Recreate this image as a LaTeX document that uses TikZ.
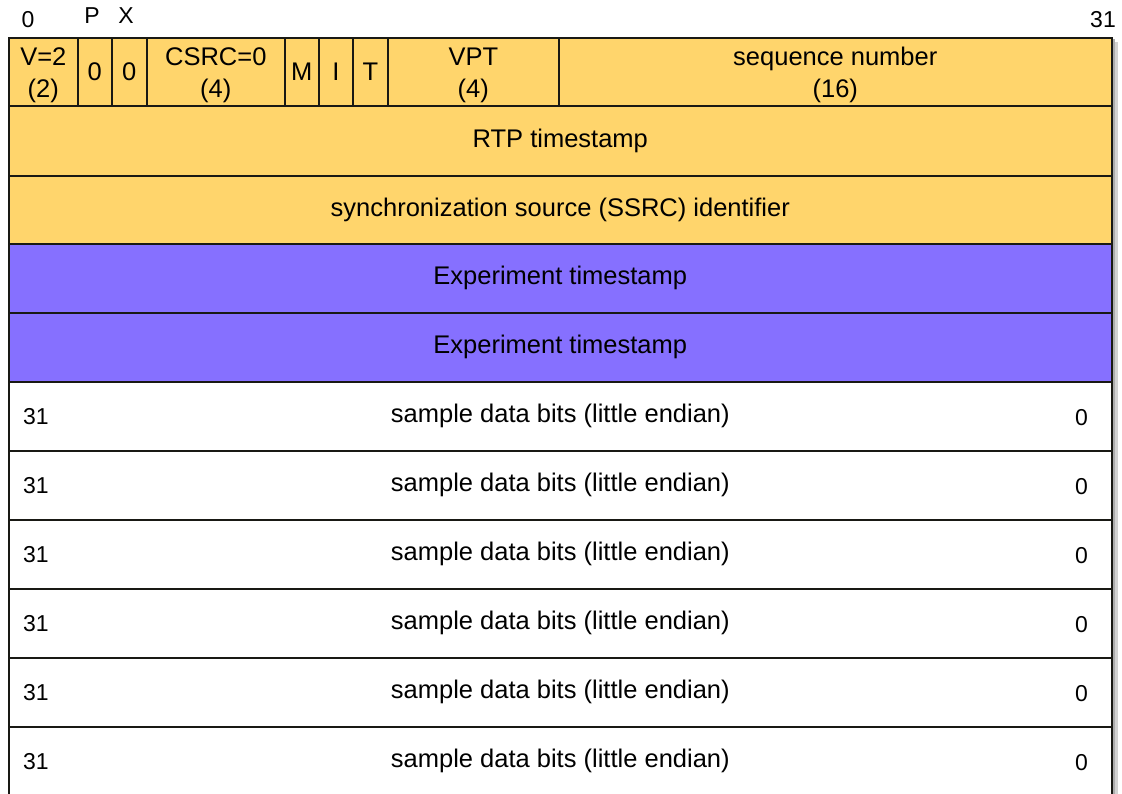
\documentclass[tikz,border=0pt]{standalone}
\usepackage{fontspec}
\setmainfont{Liberation Sans}
\definecolor{hdrfill}{RGB}{255,213,108}
\definecolor{tsfill}{RGB}{134,112,255}
\definecolor{edge}{RGB}{25,25,20}
\tikzset{
  fieldfont/.style={font=\fontsize{25.5}{32}\selectfont},
  field/.style={draw=edge, line width=1.6pt, anchor=north west, inner sep=0pt,
    align=center, fieldfont},
  hdrfield/.style={field, fill=hdrfill},
  tsfield/.style={field, fill=tsfill},
  datafield/.style={field, fill=white},
  twoline/.style={label={[fieldfont, align=center, inner sep=0pt, yshift=-3.5pt]center:#1}},
  bitlabel/.style={inner sep=0pt, font=\fontsize{23}{26}\selectfont},
}
\newcommand{\fieldbox}[7]{%
  \node[#1, minimum width=#4-#3, minimum height=#6-#5] (#2) at (#3,#5) {#7};}
\begin{document}
\begin{tikzpicture}[x=1pt, y=-1pt]
\useasboundingbox (0,0) rectangle (1122,794);
\clip (0,0) rectangle (1122,794);
% soft drop shadow behind the packet
\fill[gray!35] (14,42) rectangle (1118,820);
\fill[gray!65] (11,39) rectangle (1115,820);

% bit numbers above the first word
\node[bitlabel] (b0)  at (28,20)   {0};
\node[bitlabel] (bP)  at (92,16)   {P};
\node[bitlabel] (bX)  at (126,16)  {X};
\node[bitlabel] (b31) at (1103,20) {31};

% first word: RTP header flags
\fieldbox{hdrfield,twoline={V=2\\(2)}}{ver}{8}{77}{37}{105}{}
\fieldbox{hdrfield}{pad}{77}{111}{37}{105}{0}
\fieldbox{hdrfield}{ext}{111}{146}{37}{105}{0}
\fieldbox{hdrfield,twoline={CSRC=0\\(4)}}{cc}{146}{284}{37}{105}{}
\fieldbox{hdrfield}{mark}{284}{318}{37}{105}{M}
\fieldbox{hdrfield}{iflag}{318}{352}{37}{105}{I}
\fieldbox{hdrfield}{tflag}{352}{387}{37}{105}{T}
\fieldbox{hdrfield,twoline={VPT\\(4)}}{vpt}{387}{558}{37}{105}{}
\fieldbox{hdrfield,twoline={sequence number\\(16)}}{seq}{558}{1111}{37}{105}{}

% remaining header words
\fieldbox{hdrfield}{rtpts}{8}{1111}{105}{175}{RTP timestamp}
\fieldbox{hdrfield}{ssrc}{8}{1111}{175}{243}{synchronization source (SSRC) identifier}
\fieldbox{tsfield}{exta}{8}{1111}{243}{312}{Experiment timestamp}
\fieldbox{tsfield}{extb}{8}{1111}{312}{381}{Experiment timestamp}

% payload words
\foreach \i/\top in {1/381,2/450,3/519,4/588,5/657,6/726}{
  \pgfmathsetmacro{\bot}{\top+69}
  \fieldbox{datafield}{data\i}{8}{1111}{\top}{\bot}{sample data bits (little endian)}
  \node[bitlabel] (msb\i) at ([xshift=28pt]data\i.west) {31};
  \node[bitlabel] (lsb\i) at ([xshift=-31pt,yshift=-1pt]data\i.east) {0};
}
\end{tikzpicture}
\end{document}
